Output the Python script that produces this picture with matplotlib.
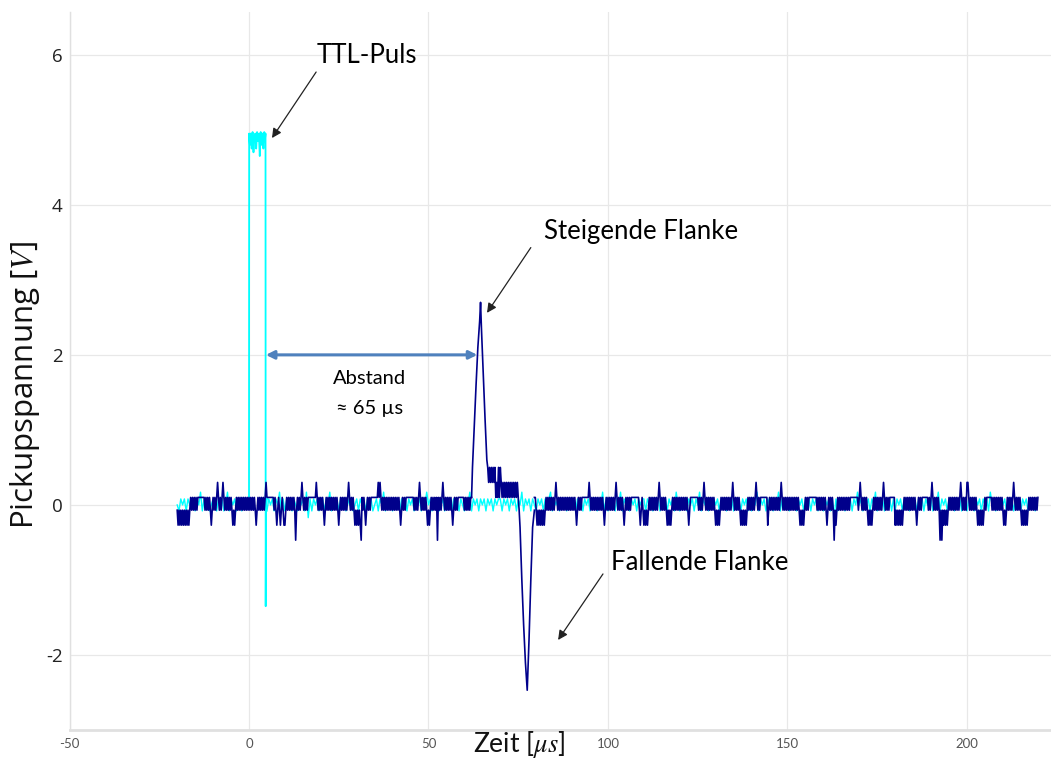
import numpy as np
import matplotlib
matplotlib.use("Agg")
import matplotlib.pyplot as plt

plt.rcParams['font.family'] = ['Lato', 'DejaVu Sans']
plt.rcParams['mathtext.fontset'] = 'stix'
plt.rcParams['axes.unicode_minus'] = False

# pickup noise levels, one char per 0.25 us sample starting at -20 us
navy_levels = {'0': -0.47, '1': -0.27, '2': -0.07, '3': 0.10, '4': 0.30, '5': 0.50}
navy_noise = (
    "2121212121" "2121232323" "2323333333" "3232323212"
    "3232343232" "3432323232" "3212123232" "3232323232"
    "3232323212" "3232323234" "3333333323" "2123212321"
    "1232323232" "3202323234" "3232323333" "3333343232"
    "3232123232" "3232323232" "1232323232" "3432323212"
    "1212103232" "1232323333" "3333434323" "2323232323"
    "2323232321" "2323233333" "3333232323" "4323232321"
    "2123232323" "0323234323" "2323232123" "2323333333"
    "2323232333" "3333333333" "3333333333" "3333333333"
    "3333333333" "3333333333" "3333333333" "3333333333"
    "2121212121" "2323232323" "2343232323" "2323232323"
    "2323212323" "2333333334" "3232323232" "3232321232"
    "3232323234" "3232323212" "3232323333" "3333321232"
    "1212123232" "3232323432" "3232321212" "1232323232"
    "3232323232" "1233333333" "3232323432" "3232323232"
    "1212123232" "3232323234" "3232323212" "1212123232"
    "3232343232" "3333333312" "3232323232" "3234323232"
    "3232323232" "3232121212" "3232333333" "3332323232"
    "3232123232" "3202123232" "3232323232" "3333333332"
    "3432323232" "1212123232" "3232323432" "3232333333"
    "1212121212" "3232323232" "3232123232" "3333333232"
    "3432323232" "0202121212" "3232323232" "3234323232"
    "4432323232" "3212121212" "3233333323" "2323232323"
    "2121232323" "2343232323" "2121212123" "2323232323"
)
# TTL channel noise levels, one char per 0.5 us sample starting at -20 us
cyan_levels = {'0': -0.17, '1': -0.08, '2': 0.0, '3': 0.08, '4': 0.17}
cyan_noise = (
    "21323132231324132312" "32132312413231321323" "22222222221323132413"
    "13231321323140313231" "23132413231323132312" "31323132312313241323"
    "13231323132313231324" "23132312313231323132" "13241323132313231323"
    "31323132313241323132" "13231323413231323132" "23132313231323132413"
    "13231324132313231323" "31323132313231323142" "13231323132413231323"
    "23132313231323132313" "13241323132313241323" "31323132313231323132"
    "13231303132313231324" "23132313241323132313" "13231323132313231323"
    "31324132313231323132" "13231323132314231323" "23132313231323132313"
)

# pickup pulse (navy): rising edge, plateau (0.25 us levels from 66.75 us), falling edge
rise_t = [62.0, 62.25, 62.75, 63.25, 63.75, 64.25, 64.5, 64.75, 65.25, 65.75, 66.25, 66.5]
rise_v = [0.10, 0.50, 1.05, 1.60, 2.10, 2.45, 2.70, 2.35, 1.75, 1.15, 0.60, 0.50]
plateau = "4545454534353543" "434343434343434343"
fall_t = [75.25, 75.5, 76.0, 76.5, 77.0, 77.5, 78.0, 78.5, 79.0, 79.5]
fall_v = [-0.07, -0.30, -1.00, -1.60, -2.10, -2.47, -1.80, -1.00, -0.30, -0.07]

# TTL pulse (cyan)
ttl_t = [0.0, 0.05, 0.25, 0.5, 0.75, 1.0, 1.25, 1.5, 1.75, 2.0, 2.25, 2.5, 2.75,
         3.0, 3.25, 3.5, 3.75, 4.0, 4.25, 4.5, 4.6, 4.65, 4.75, 5.0]
ttl_v = [0.0, 4.95, 4.8, 4.95, 4.75, 4.97, 4.7, 4.9, 4.95, 4.75, 4.97, 4.85, 4.95,
         4.65, 4.97, 4.8, 4.95, 4.75, 4.97, 4.9, 4.95, -1.35, 0.0, 0.08]

tn = -20 + 0.25 * np.arange(len(navy_noise))
navy_base = np.array([navy_levels[c] for c in navy_noise])
tc = -20 + 0.5 * np.arange(len(cyan_noise))
cyan_base = np.array([cyan_levels[c] for c in cyan_noise])

plat_t = 66.75 + 0.25 * np.arange(len(plateau))
plat_v = [navy_levels[c] for c in plateau]
pulse_t = np.concatenate([rise_t, plat_t, fall_t])
pulse_v = np.concatenate([rise_v, plat_v, fall_v])

m1 = tn <= 62
m2 = tn >= 79.5
c1 = tc <= 0
c2 = tc >= 5

fig = plt.figure(figsize=(10.51, 7.61), dpi=100)
ax = fig.add_axes([69.5 / 1051, 31 / 761, 981.5 / 1051, 718 / 761])

cyan = '#00FFFF'
navy = '#00008B'
ax.plot(tc[c1], cyan_base[c1], color=cyan, lw=1.0, zorder=2)
ax.plot(tc[c2], cyan_base[c2], color=cyan, lw=1.0, zorder=2)
ax.plot(ttl_t, ttl_v, color=cyan, lw=1.3, zorder=2)

ax.plot(tn[m1], navy_base[m1], color=navy, lw=1.2, zorder=3)
ax.plot(tn[m2], navy_base[m2], color=navy, lw=1.2, zorder=3)
ax.plot(pulse_t, pulse_v, color=navy, lw=1.2, zorder=3)

ax.set_xlim(-50, 223.4)
ax.set_ylim(-3.0, 6.57)
ax.set_xticks([-50, 0, 50, 100, 150, 200])
ax.set_yticks([-2, 0, 2, 4, 6])
ax.grid(True, color='#E8E8E8', lw=0.9)
ax.set_axisbelow(True)
ax.tick_params(length=0)
ax.tick_params(axis='x', labelsize=9.5, labelcolor='#555555', pad=6)
ax.tick_params(axis='y', labelsize=13.5, labelcolor='#222222', pad=5)
for lbl in ax.get_yticklabels():
    lbl.set_family(['Open Sans', 'DejaVu Sans'])
for s in ['top', 'right']:
    ax.spines[s].set_visible(False)
ax.spines['left'].set_color('#E0E0E0')
ax.spines['left'].set_linewidth(1.0)
ax.spines['bottom'].set_color('#E0E0E0')
ax.spines['bottom'].set_linewidth(2.0)

fig.text(25 / 1051, 1 - 385 / 761, 'Pickupspannung [$\\it{V}$]', rotation=90,
         ha='center', va='center', fontsize=22.5, color='#111111',
         family=['Open Sans', 'DejaVu Sans'])
fig.text(519 / 1051, 1 - 744 / 761, 'Zeit [$\\mu s$]', ha='center', va='center',
         fontsize=19, color='#111111')

arrow_kw = dict(arrowstyle='-|>', color='#222222', lw=0.9, mutation_scale=14,
                shrinkA=0, shrinkB=0)
ax.annotate('', xy=(6.4, 4.89), xytext=(18.7, 5.77), arrowprops=arrow_kw)
ax.annotate('', xy=(66.3, 2.56), xytext=(78.5, 3.43), arrowprops=arrow_kw)
ax.annotate('', xy=(86.1, -1.8), xytext=(98.6, -0.92), arrowprops=arrow_kw)
ax.text(32.9, 5.99, 'TTL-Puls', fontsize=18.5, ha='center', va='center')
ax.text(109.2, 3.64, 'Steigende Flanke', fontsize=18.5, ha='center', va='center')
ax.text(125.6, -0.77, 'Fallende Flanke', fontsize=18.5, ha='center', va='center')

ax.annotate('', xy=(4.7, 2.0), xytext=(63.6, 2.0),
            arrowprops=dict(arrowstyle='<|-|>', color='#4F81BD', lw=2.2,
                            mutation_scale=12, shrinkA=0, shrinkB=0))
ax.text(33.7, 1.69, 'Abstand', fontsize=14.5, ha='center', va='center')
ax.text(33.7, 1.29, '≈ 65 µs', fontsize=14.5, ha='center', va='center')

fig.savefig('out.png', dpi=100)
